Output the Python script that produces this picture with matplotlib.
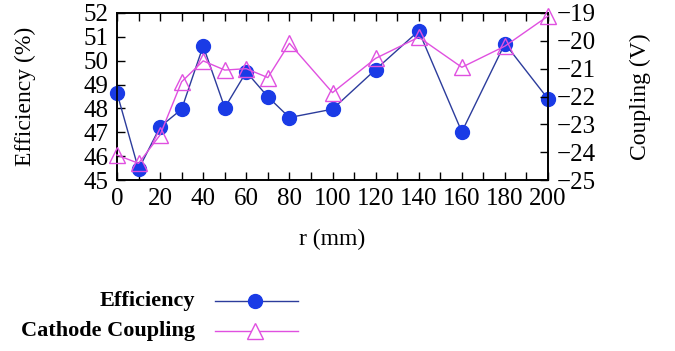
import matplotlib
matplotlib.use('Agg')
import matplotlib.pyplot as plt
from matplotlib.lines import Line2D
from matplotlib.ticker import MultipleLocator

plt.rcParams['font.family'] = ['Liberation Serif', 'DejaVu Serif']
plt.rcParams['font.size'] = 17

# radial position (mm)
r_mm = [0, 10, 20, 30, 40, 50, 60, 70, 80, 100, 120, 140, 160, 180, 200]
# efficiency (%) on the left axis
efficiency = [48.65, 45.45, 47.23, 47.97, 50.62, 48.03, 49.53, 48.49, 47.62,
              47.97, 49.63, 51.25, 47.02, 50.72, 48.4]
# cathode coupling (V) on the right axis
coupling = [-24.1, -24.4, -23.38, -21.47, -20.72, -21.05, -21.0, -21.32, -20.09,
            -21.86, -20.63, -19.87, -20.95, -20.19, -19.11]

blue_line = '#2c3c9c'
blue_mark = '#1a3be6'
pink = '#e050e0'

fig = plt.figure(figsize=(6.75, 3.51), dpi=100)
ax = fig.add_axes([0.1733, 0.487, 0.6386, 0.476])
ax2 = ax.twinx()

ax.plot(r_mm, efficiency, color=blue_line, lw=1.0, marker='o', ms=10,
        mfc=blue_mark, mec=blue_mark, zorder=3, clip_on=False)
ax2.plot(r_mm, coupling, color=pink, lw=1.0, marker='^', ms=11,
         mfc='none', mec=pink, mew=1.0, zorder=3, clip_on=False)

ax.set_xlim(0, 200)
ax.set_ylim(45, 52)
ax2.set_ylim(-25, -19)
ax.xaxis.set_major_locator(MultipleLocator(20))
ax.xaxis.set_minor_locator(MultipleLocator(10))
ax.yaxis.set_major_locator(MultipleLocator(1))
ax2.yaxis.set_major_locator(MultipleLocator(1))

ax.tick_params(axis='x', which='both', direction='in', top=True, length=6, width=1,
               pad=6, labelsize=18)
ax.tick_params(axis='y', direction='in', length=6, width=1, pad=6, labelsize=18)
ax2.tick_params(axis='y', direction='in', length=6, width=1, pad=6, labelsize=18)

for a in (ax, ax2):
    for s in a.spines.values():
        s.set_linewidth(1.2)

ax.set_xlabel('r (mm)', labelpad=13)
ax.set_ylabel('Efficiency (%)', labelpad=34)
ax2.set_ylabel('Coupling (V)', labelpad=25)

# key below the plot, text right-aligned before the sample line
def key_entry(y, label, color, **marker):
    yf = 1 - y / 351
    fig.text(195 / 675, yf, label, ha='right', va='center',
             fontsize=16, fontweight='bold')
    fig.add_artist(Line2D([215 / 675, 298 / 675], [yf, yf], color=color, lw=1.0))
    fig.add_artist(Line2D([255 / 675], [yf], linestyle='none', **marker))

key_entry(301, 'Efficiency', blue_line, marker='o', ms=10,
          mfc=blue_mark, mec=blue_mark)
key_entry(331, 'Cathode Coupling', pink, marker='^', ms=11,
          mfc='white', mec=pink, mew=1.0)

fig.savefig('out.png', dpi=100)
